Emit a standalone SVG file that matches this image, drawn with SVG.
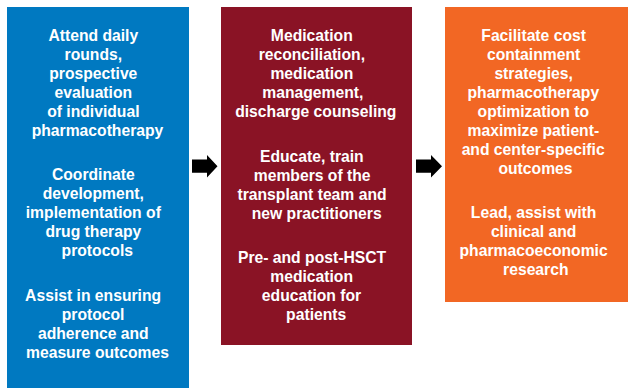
<svg xmlns="http://www.w3.org/2000/svg" width="628" height="388" viewBox="0 0 628 388">
  <style>
    .box-blue { fill: #0079C1; }
    .box-maroon { fill: #8A1325; }
    .box-orange { fill: #F26724; }
    .label { font-family: "Liberation Sans", Arial, sans-serif; font-weight: bold; font-size: 15.7px; fill: #FFFFFF; text-anchor: middle; }
    .arrow { fill: #000000; }
  </style>
  <rect width="628" height="388" fill="#FFFFFF"/>

  <g id="node-clinical">
    <rect class="box-blue" x="7" y="7" width="182" height="381"/>
    <text class="label">
      <tspan x="95.5" y="40.7">Attend daily</tspan>
      <tspan x="95.5" y="59.7">rounds,</tspan>
      <tspan x="95.5" y="78.7">prospective</tspan>
      <tspan x="95.5" y="97.7">evaluation</tspan>
      <tspan x="95.5" y="116.7">of individual</tspan>
      <tspan x="97.5" y="135.7">pharmacotherapy</tspan>
    </text>
    <text class="label">
      <tspan x="95.5" y="180">Coordinate</tspan>
      <tspan x="95.5" y="199">development,</tspan>
      <tspan x="95.5" y="218">implementation of</tspan>
      <tspan x="95.5" y="237">drug therapy</tspan>
      <tspan x="97.3" y="256">protocols</tspan>
    </text>
    <text class="label">
      <tspan x="95.3" y="301">Assist in ensuring</tspan>
      <tspan x="95.3" y="320">protocol</tspan>
      <tspan x="95.5" y="339">adherence and</tspan>
      <tspan x="97.5" y="358">measure outcomes</tspan>
    </text>
  </g>

  <g id="node-education">
    <rect class="box-maroon" x="221" y="7" width="191" height="338"/>
    <text class="label">
      <tspan x="314" y="40.7">Medication</tspan>
      <tspan x="314" y="59.7">reconciliation,</tspan>
      <tspan x="314" y="78.7">medication</tspan>
      <tspan x="315" y="97.7">management,</tspan>
      <tspan x="315.8" y="116.7">discharge counseling</tspan>
    </text>
    <text class="label">
      <tspan x="314" y="161.7">Educate, train</tspan>
      <tspan x="314.3" y="180.7">members of the</tspan>
      <tspan x="314.2" y="199.7">transplant team and</tspan>
      <tspan x="316.7" y="218.7">new practitioners</tspan>
    </text>
    <text class="label">
      <tspan x="314.2" y="262.7">Pre- and post-HSCT</tspan>
      <tspan x="313.8" y="281.7">medication</tspan>
      <tspan x="313.7" y="300.7">education for</tspan>
      <tspan x="316.2" y="319.7">patients</tspan>
    </text>
  </g>

  <g id="node-outcomes">
    <rect class="box-orange" x="445" y="7" width="183" height="295"/>
    <text class="label">
      <tspan x="535.8" y="40.7">Facilitate cost</tspan>
      <tspan x="535.8" y="59.7">containment</tspan>
      <tspan x="535.8" y="78.7">strategies,</tspan>
      <tspan x="535.5" y="97.7">pharmacotherapy</tspan>
      <tspan x="535.5" y="116.7">optimization to</tspan>
      <tspan x="535.5" y="135.7">maximize patient-</tspan>
      <tspan x="535.3" y="154.7">and center-specific</tspan>
      <tspan x="535.5" y="173.7">outcomes</tspan>
    </text>
    <text class="label">
      <tspan x="535.8" y="218.3">Lead, assist with</tspan>
      <tspan x="535.8" y="237.3">clinical and</tspan>
      <tspan x="535.8" y="256.3">pharmacoeconomic</tspan>
      <tspan x="535.8" y="275.3">research</tspan>
    </text>
  </g>

  <g id="connectors">
    <polygon class="arrow" points="192,159.5 207,159.5 207,155 217.5,166.2 207,177.5 207,172.7 192,172.7"/>
    <polygon class="arrow" points="416,159.5 431,159.5 431,155 442,166.2 431,177.5 431,172.7 416,172.7"/>
  </g>
</svg>
